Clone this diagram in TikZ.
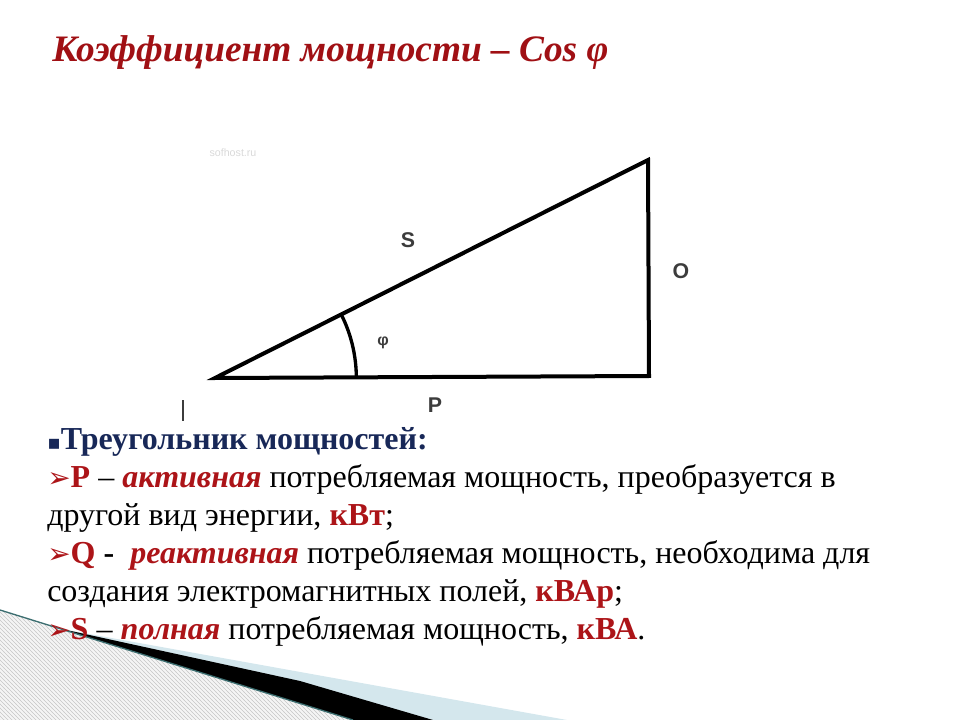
\documentclass[tikz,border=0pt]{standalone}
\usepackage{fontspec}
\setmainfont{Liberation Serif}
\newfontfamily\labelfont{Liberation Sans}
\newfontfamily\symbfont{DejaVu Sans}
\usetikzlibrary{positioning,angles,patterns}
\definecolor{titlered}{RGB}{160,16,20}
\definecolor{wordred}{RGB}{172,20,24}
\definecolor{navyhead}{RGB}{24,40,88}
\definecolor{linelabel}{RGB}{60,60,60}
\definecolor{bandblue}{RGB}{212,231,237}
\definecolor{bandteal}{RGB}{60,110,112}
\tikzset{
    bodyline/.style = {anchor=base west, inner sep=0pt, font=\fontsize{24}{29}\selectfont},
    sidelabel/.style = {font=\labelfont\bfseries\fontsize{16}{18}\selectfont, text=linelabel},
    side/.style = {line width=3pt, line join=miter},
}
\newcommand{\redw}[1]{\textbf{\textcolor{wordred}{#1}}}
\newcommand{\redi}[1]{\textbf{\textit{\textcolor{wordred}{#1}}}}
\newcommand{\arrbul}{{\symbfont\color{wordred}\fontsize{21}{21}\selectfont ➢}}

\begin{document}
\begin{tikzpicture}[x=0.75pt,y=-0.75pt]
\useasboundingbox (0,0) rectangle (960,720);

% corner decoration
\fill[gray!8] (0,610) -- (353,720) -- (0,720) -- cycle;
\fill[pattern=north west lines, pattern color=gray!45] (0,610) -- (353,720) -- (0,720) -- cycle;
\fill[bandblue] (67,630) -- (567,720) -- (433,720) -- cycle;
\fill[black] (62,629) -- (300,681) -- (433,720) -- (353,720) -- cycle;
\draw[bandteal, line width=1pt] (0,610) -- (353,720);

\node[anchor=base west, inner sep=0pt, text=titlered,
      font=\fontsize{28}{34}\selectfont\bfseries\itshape] (title) at (52,62)
      {Коэффициент мощности – Cos φ};

% triangle
\coordinate (pl) at (215,378);
\coordinate (pr) at (649,376);
\coordinate (pt) at (648,160);
\draw[side] (pl) -- (pr) -- (pt) -- cycle;
\pic[draw, line width=2.5pt, angle radius=106pt] {angle = pr--pl--pt};

\node[sidelabel] (lblS) at (408,240) {S};
\node[sidelabel] (lblQ) at (681,271) {O};
\node[sidelabel, font=\labelfont\bfseries\fontsize{12}{12}\selectfont] (lblphi) at (383,343) {φ};
\node[sidelabel] (lblP) at (435,405) {P};
\node[font=\labelfont\fontsize{8}{8}\selectfont, text=gray!30] (mark) at (233,153) {sofhost.ru};
\draw[linelabel, line width=1.8pt] (183,400) -- (183,421);

% text
\node[bodyline] (l1) at (47,449)
 {{\symbfont\color{navyhead}\fontsize{15}{15}\selectfont ▪}\textbf{\textcolor{navyhead}{Треугольник мощностей:}}};
\node[bodyline, below=28.5pt of l1.base west, anchor=base west] (l2)
 {\arrbul\redw{P} – \redi{активная} потребляемая мощность, преобразуется в};
\node[bodyline, below=28.5pt of l2.base west, anchor=base west] (l3)
 {другой вид энергии, \redw{кВт};};
\node[bodyline, below=28.5pt of l3.base west, anchor=base west] (l4)
 {\arrbul\redw{Q} \textbf{-}\ \ \redi{реактивная} потребляемая мощность, необходима для};
\node[bodyline, below=28.5pt of l4.base west, anchor=base west] (l5)
 {создания электромагнитных полей, \redw{кВАр};};
\node[bodyline, below=28.5pt of l5.base west, anchor=base west] (l6)
 {\arrbul\redw{S} – \redi{полная} потребляемая мощность, \redw{кВА}.};
\end{tikzpicture}
\end{document}
